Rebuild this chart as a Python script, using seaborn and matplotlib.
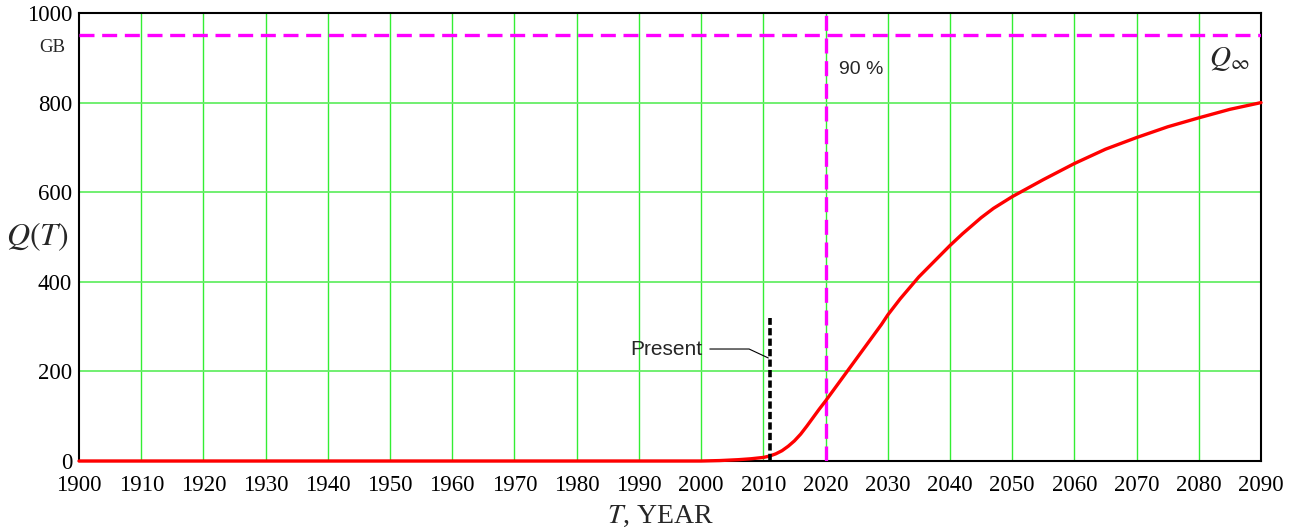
import matplotlib
matplotlib.use("Agg")
import matplotlib.pyplot as plt
import matplotlib.transforms as mtransforms
import pandas as pd
import seaborn as sns

# cumulative production curve
years = [1900, 1950, 2000, 2003, 2006, 2008, 2010, 2011, 2012, 2013, 2014,
         2015, 2016, 2017, 2018, 2019, 2020, 2021, 2022, 2023, 2024, 2025,
         2026, 2027, 2028, 2029, 2030, 2032, 2035, 2038, 2040, 2042, 2045,
         2047, 2050, 2055, 2060, 2065, 2070, 2075, 2080, 2085, 2090]
q_values = [0, 0, 0, 1, 3, 5, 8, 11, 16, 23, 33,
            45, 60, 78, 97, 116, 134, 153, 172, 191, 210, 229,
            248, 267, 286, 305, 326, 362, 411, 453, 481, 507, 543,
            564, 590, 628, 664, 696, 722, 746, 766, 785, 800]

q_inf = 950
year_90 = 2020
year_present = 2011
present_top = 320

x_ticks = list(range(1900, 2091, 10))
y_ticks = [0, 200, 400, 600, 800, 1000]

df = pd.DataFrame({"year": years, "Q": q_values})

sns.set_theme(style="white")
plt.rcParams["font.family"] = ["Liberation Serif", "DejaVu Serif"]
plt.rcParams["mathtext.fontset"] = "stix"

fig = plt.figure(figsize=(13, 5.31), dpi=100)
ax = fig.add_axes([0.0608, 0.1318, 0.9092, 0.8437])

# grid
for x in x_ticks[1:-1]:
    ax.axvline(x, color="#33ee33", lw=1.0, zorder=0)
for y in y_ticks[1:-1]:
    ax.axhline(y, color="#66ee66", lw=1.3, zorder=0)

# curve
sns.lineplot(data=df, x="year", y="Q", color="red", lw=2.4, ax=ax,
             zorder=4, clip_on=False)

# asymptote and 90% year
ax.axhline(q_inf, color="#ff00ff", lw=2.4, dashes=(4.5, 2.3), zorder=3)
ax.axvline(year_90, color="#ff00ff", lw=2.4, dashes=(4.5, 2.3), zorder=3)

# present
ax.vlines(year_present, 0, present_top, color="black", lw=2.6,
          linestyles=(0, (2.0, 0.9)), zorder=5)
ax.annotate("Present", xy=(2010.8, 230), xytext=(2000.2, 250),
            ha="right", va="center", fontsize=15, family="Liberation Sans",
            arrowprops=dict(arrowstyle="-", lw=0.8, color="black",
                            shrinkA=3, shrinkB=0,
                            connectionstyle="angle,angleA=0,angleB=155,rad=0"))

ax.text(2022.2, 873, "90 %", fontsize=14, family="Liberation Sans",
        ha="left", va="center")
ax.text(2084.9, 898, r"$Q_\infty$", fontsize=21, ha="center", va="center")

ax.set_xlim(1900, 2090)
ax.set_ylim(0, 1000)
ax.set_xticks(x_ticks)
ax.set_yticks(y_ticks)
ax.tick_params(axis="both", labelsize=16.5, length=0, colors="black")
ax.tick_params(axis="x", pad=10)
ax.tick_params(axis="y", pad=5)

trans = mtransforms.blended_transform_factory(fig.transFigure, ax.transData)
ax.text(0.0405, 922, "GB", transform=trans, fontsize=13.5, ha="center",
        va="center")

ax.set_ylabel(r"$Q(T)$", fontsize=23, rotation=0, va="center", ha="center")
ax.yaxis.set_label_coords(-0.035, 0.5)
ax.set_xlabel(r"$T$, YEAR", fontsize=20, va="center")
ax.xaxis.set_label_coords(0.492, -0.123)

for s in ax.spines.values():
    s.set_color("black")
    s.set_linewidth(1.5)
    s.set_visible(True)

fig.savefig("out.png", dpi=100, facecolor="white")
